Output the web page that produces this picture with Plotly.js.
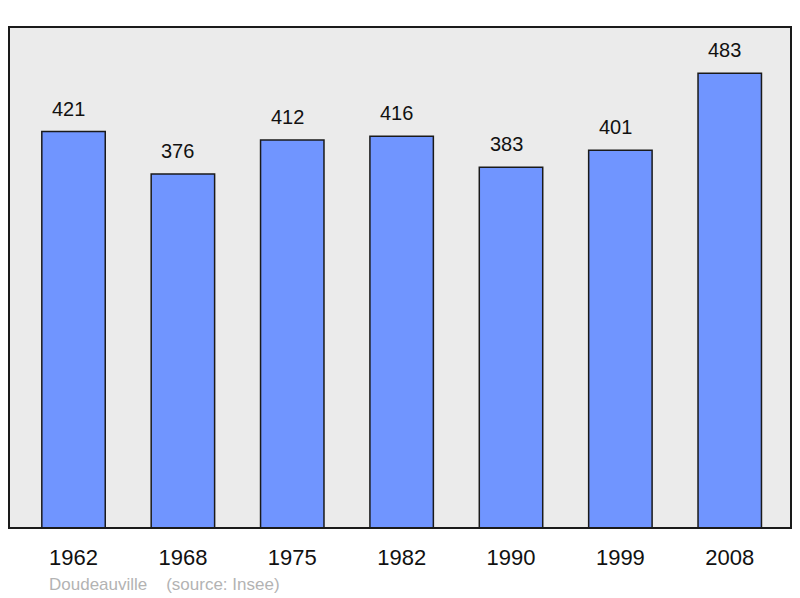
<!DOCTYPE html>
<html>
<head>
<meta charset="utf-8">
<script src="https://cdn.plot.ly/plotly-3.0.1.min.js"></script>
<style>
  html, body { margin: 0; padding: 0; background: #fff; }
  #chart { width: 800px; height: 598px; }
</style>
</head>
<body>
<div id="chart"></div>
<script>
const years = ['1962', '1968', '1975', '1982', '1990', '1999', '2008'];
const population = [421, 376, 412, 416, 383, 401, 483];
const sourceNote = 'Doudeauville\u00a0\u00a0\u00a0\u00a0(source: Insee)';

const barTrace = {
    x: years,
    y: population,
    type: 'bar',
    width: 0.58,
    marker: {
        color: '#7095ff',
        line: { color: '#1a1a1a', width: 1.5 },
    },
    hoverinfo: 'none',
};

// value labels sit a little above each bar (x as category index)
const valueLabels = years.map((yr, i) => ({
    x: i,
    y: population[i],
    text: String(population[i]),
    showarrow: false,
    yanchor: 'bottom',
    yshift: 10,
    xshift: -5,
    font: { size: 20, color: '#111' },
}));

valueLabels.push({
    xref: 'paper', yref: 'paper',
    x: 0.048, y: -0.112,
    xanchor: 'left', yanchor: 'middle',
    text: sourceNote,
    showarrow: false,
    font: { size: 17, color: '#b3b3b3' },
});

const layout = {
    width: 800,
    height: 598,
    margin: { l: 9, r: 9, t: 27, b: 70 },
    paper_bgcolor: '#ffffff',
    plot_bgcolor: '#ebebeb',
    font: { family: '"Liberation Sans", Arial, sans-serif', color: '#111' },
    showlegend: false,
    xaxis: {
        type: 'category',
        range: [-0.59, 6.56],
        showgrid: false,
        zeroline: false,
        ticks: '',
        ticklabelstandoff: 14,
        tickfont: { size: 22, color: '#111' },
        fixedrange: true,
    },
    yaxis: {
        range: [0, 532],
        showgrid: false,
        zeroline: false,
        showticklabels: false,
        ticks: '',
        fixedrange: true,
    },
    shapes: [{
        type: 'rect',
        xref: 'paper', yref: 'paper',
        x0: 0, x1: 1, y0: 0, y1: 1,
        line: { color: '#1a1a1a', width: 2 },
        fillcolor: 'rgba(0,0,0,0)',
        layer: 'above',
    }],
    annotations: valueLabels,
};

Plotly.newPlot('chart', [barTrace], layout, { displayModeBar: false, staticPlot: true });
</script>
</body>
</html>
